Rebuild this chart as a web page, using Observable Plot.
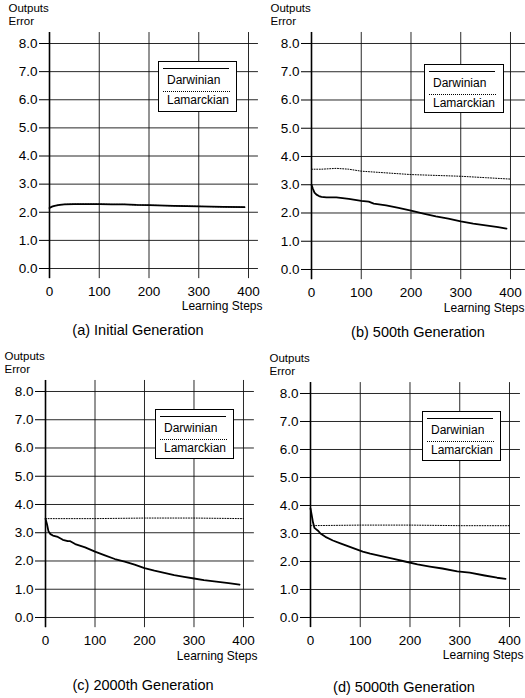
<!DOCTYPE html>
<html>
<head>
<meta charset="utf-8">
<script src="https://cdn.jsdelivr.net/npm/d3@7"></script>
<script src="https://cdn.jsdelivr.net/npm/@observablehq/plot@0.6"></script>
<style>
  html, body { margin: 0; padding: 0; background: #fff; }
  #root { position: relative; width: 525px; height: 698px; overflow: hidden; background: #fff;
          font-family: "Liberation Sans", Arial, Helvetica, sans-serif; color: #000; }
  .panel { position: absolute; }
  .legend { position: absolute; box-sizing: border-box; border: 1px solid #000; background: #fff; }
  .legend .ln { position: absolute; left: 4px; width: 66px; }
  .legend .solid { border-top: 1.6px solid #000; }
  .legend .dot { border-top: 1px dotted #000; width: 67px; }
  .legend .lbl { position: absolute; left: 8px; font-size: 12px; line-height: 12px; }
  .caption { position: absolute; font-size: 14.5px; white-space: nowrap; transform: translate(-50%, -50%); }
</style>
</head>
<body>
<div id="root"></div>
<script>
// ---- data ----
const xTicks = [0, 100, 200, 300, 400];
const yTicks = [0, 1, 2, 3, 4, 5, 6, 7, 8];
const seriesNames = ["Darwinian", "Lamarckian"];
const yTitle = ["Outputs", "Error"];
const xTitle = "Learning Steps";
const captions = ["(a) Initial Generation", "(b) 500th Generation", "(c) 2000th Generation", "(d) 5000th Generation"];

// (a) Initial Generation — both curves coincide
const stepsA = [0, 5, 10, 20, 30, 50, 75, 100, 125, 150, 175, 200, 250, 300, 350, 392];
const darwinA = [2.15, 2.2, 2.23, 2.26, 2.28, 2.29, 2.29, 2.29, 2.28, 2.28, 2.26, 2.25, 2.23, 2.21, 2.19, 2.18];
const lamarckA = [2.15, 2.2, 2.23, 2.26, 2.28, 2.29, 2.29, 2.29, 2.28, 2.28, 2.26, 2.25, 2.23, 2.21, 2.19, 2.18];

// (b) 500th Generation
const stepsDarwinB = [0, 3, 6, 10, 15, 20, 30, 50, 75, 100, 115, 125, 150, 175, 200, 225, 250, 275, 300, 325, 350, 375, 392];
const darwinB = [3.0, 2.85, 2.72, 2.65, 2.6, 2.57, 2.55, 2.55, 2.5, 2.43, 2.4, 2.33, 2.27, 2.18, 2.08, 1.98, 1.88, 1.8, 1.7, 1.62, 1.56, 1.5, 1.45];
const stepsLamarckB = [0, 20, 50, 75, 100, 125, 150, 200, 250, 300, 350, 400];
const lamarckB = [3.55, 3.55, 3.58, 3.55, 3.48, 3.45, 3.42, 3.36, 3.33, 3.3, 3.25, 3.2];

// (c) 2000th Generation
const stepsDarwinC = [0, 3, 6, 10, 15, 25, 35, 45, 50, 60, 80, 100, 120, 140, 160, 180, 200, 220, 240, 260, 280, 300, 320, 345, 370, 392];
const darwinC = [3.5, 3.3, 3.05, 2.95, 2.9, 2.85, 2.75, 2.7, 2.7, 2.6, 2.48, 2.33, 2.2, 2.07, 1.98, 1.87, 1.75, 1.66, 1.58, 1.5, 1.44, 1.38, 1.32, 1.27, 1.22, 1.16];
const stepsLamarckC = [0, 100, 200, 300, 400];
const lamarckC = [3.5, 3.5, 3.52, 3.52, 3.5];

// (d) 5000th Generation
const stepsDarwinD = [0, 2, 5, 8, 15, 20, 30, 45, 60, 75, 90, 105, 120, 140, 165, 190, 215, 240, 265, 295, 320, 350, 375, 392];
const darwinD = [3.9, 3.7, 3.4, 3.2, 3.1, 3.0, 2.88, 2.75, 2.65, 2.55, 2.45, 2.35, 2.28, 2.2, 2.1, 2.0, 1.9, 1.82, 1.75, 1.65, 1.6, 1.5, 1.42, 1.38];
const stepsLamarckD = [0, 100, 200, 300, 400];
const lamarckD = [3.28, 3.3, 3.3, 3.28, 3.28];

// ---- layout (pixel geometry of each panel) ----
const layouts = [
  {left: 0,   top: 0,   w: 262, x0: 49,  x400: 248, y8: 43,  y0: 268, xMax: 420, lg: [158, 61, 79, 51], cap: [138, 330]},
  {left: 262, top: 0,   w: 263, x0: 311, x400: 510, y8: 43,  y0: 269, xMax: 430, lg: [424, 64, 80, 49], cap: [418, 332]},
  {left: 0,   top: 349, w: 262, x0: 45,  x400: 243, y8: 391, y0: 617, xMax: 422, lg: [155, 409, 79, 50], cap: [143, 685]},
  {left: 262, top: 349, w: 263, x0: 310, x400: 509, y8: 393, y0: 617, xMax: 422, lg: [422, 411, 79, 50], cap: [404, 687]}
];

const zip = (xs, ys) => xs.map((s, i) => ({step: s, err: ys[i]}));
const panelsData = [
  {darwin: zip(stepsA, darwinA), lamarck: zip(stepsA, lamarckA)},
  {darwin: zip(stepsDarwinB, darwinB), lamarck: zip(stepsLamarckB, lamarckB)},
  {darwin: zip(stepsDarwinC, darwinC), lamarck: zip(stepsLamarckC, lamarckC)},
  {darwin: zip(stepsDarwinD, darwinD), lamarck: zip(stepsLamarckD, lamarckD)}
];

const root = document.getElementById("root");
const yTop = 8.39, yBot = -0.36;

layouts.forEach((L, i) => {
  const kx = (L.x400 - L.x0) / 400;
  const ky = (L.y0 - L.y8) / 8;
  const marginLeft = L.x0 - L.left;
  const plotW = L.xMax * kx;
  const marginRight = L.w - marginLeft - plotW;
  const marginTop = L.y8 - (yTop - 8) * ky - L.top;
  const plotH = (yTop - yBot) * ky;
  const marginBottom = 45;
  const height = marginTop + plotH + marginBottom;
  const frameRight = L.x0 + plotW;
  const d = panelsData[i];

  const chart = Plot.plot({
    width: L.w, height,
    marginLeft, marginRight, marginTop, marginBottom,
    x: {domain: [0, L.xMax], label: null},
    y: {domain: [yBot, yTop], label: null},
    style: {fontFamily: '"Liberation Sans", Arial, Helvetica, sans-serif', fontSize: "13px",
            overflow: "visible", background: "transparent", color: "#000"},
    marks: [
      Plot.gridX(xTicks, {stroke: "#111", strokeOpacity: 0.9, strokeWidth: 1}),
      Plot.gridY(yTicks, {stroke: "#111", strokeOpacity: 0.9, strokeWidth: 1}),
      Plot.ruleX([0], {stroke: "#000", strokeWidth: 1.6}),
      Plot.axisY({ticks: yTicks, tickSize: 10, tickPadding: 2, tickFormat: v => v.toFixed(1),
                  fontSize: 13.5, label: null, stroke: "#000"}),
      Plot.axisX({ticks: xTicks, tickSize: 0, tickPadding: 8, fontSize: 13.5, label: null}),
      Plot.line(d.lamarck, {x: "step", y: "err", stroke: "#000", strokeWidth: 1, strokeDasharray: "1 1.6"}),
      Plot.line(d.darwin, {x: "step", y: "err", stroke: "#000", strokeWidth: 1.8}),
      Plot.text([yTitle[0]], {frameAnchor: "top-left", textAnchor: "start", lineAnchor: "middle",
                 dx: -41, dy: -24.5, fontSize: 11.5, fill: "#000"}),
      Plot.text([yTitle[1]], {frameAnchor: "top-left", textAnchor: "start", lineAnchor: "middle",
                 dx: -41, dy: -11, fontSize: 11.5, fill: "#000"}),
      Plot.text([xTitle], {frameAnchor: "bottom-right", textAnchor: "end", lineAnchor: "middle",
                 dx: (L.x400 + 14) - frameRight, dy: 28, fontSize: 12, fill: "#000"})
    ]
  });

  const wrap = document.createElement("div");
  wrap.className = "panel";
  wrap.style.left = L.left + "px";
  wrap.style.top = L.top + "px";
  wrap.style.width = L.w + "px";
  wrap.appendChild(chart);
  root.appendChild(wrap);

  // legend box
  const [lx, ly, lw, lh] = L.lg;
  const lg = document.createElement("div");
  lg.className = "legend";
  lg.style.left = lx + "px"; lg.style.top = ly + "px";
  lg.style.width = lw + "px"; lg.style.height = lh + "px";
  lg.innerHTML =
    `<div class="ln solid" style="top:6px"></div>` +
    `<div class="lbl" style="top:12px">${seriesNames[0]}</div>` +
    `<div class="ln dot" style="top:29px"></div>` +
    `<div class="lbl" style="top:32px">${seriesNames[1]}</div>`;
  root.appendChild(lg);

  // caption
  const cap = document.createElement("div");
  cap.className = "caption";
  cap.style.left = L.cap[0] + "px";
  cap.style.top = L.cap[1] + "px";
  cap.textContent = captions[i];
  root.appendChild(cap);
});
</script>
</body>
</html>
